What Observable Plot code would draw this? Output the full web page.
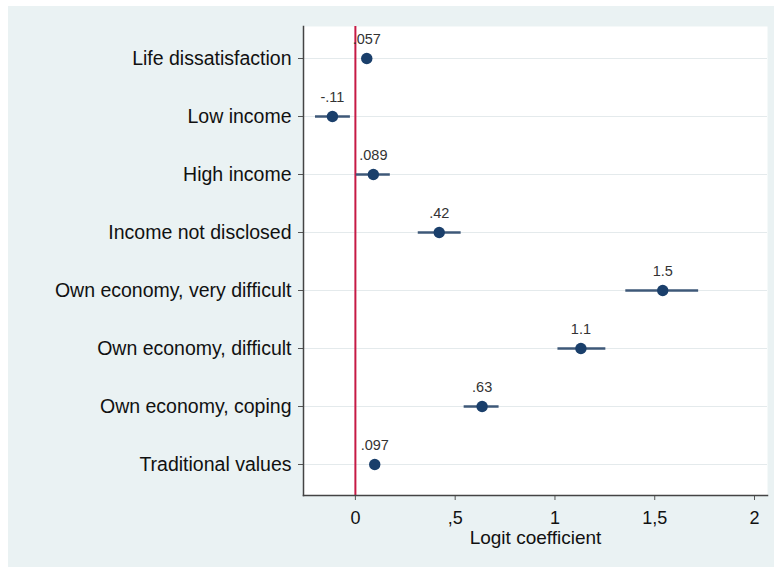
<!DOCTYPE html>
<html><head><meta charset="utf-8">
<script src="https://cdn.jsdelivr.net/npm/d3@7"></script>
<script src="https://cdn.jsdelivr.net/npm/@observablehq/plot@0.6"></script>
<style>
body{margin:0;background:#fff;}
#wrap{position:absolute;left:8px;top:6px;width:766px;height:561px;background:#eaf2f3;}
</style></head><body><div id="wrap"></div>
<script>
const categories = ["Life dissatisfaction","Low income","High income","Income not disclosed","Own economy, very difficult","Own economy, difficult","Own economy, coping","Traditional values"];
const estimates = [0.057,-0.115,0.09,0.42,1.54,1.13,0.635,0.097];
const lower = [0.035,-0.2,0.005,0.315,1.355,1.015,0.545,0.075];
const upper = [0.08,-0.025,0.175,0.53,1.72,1.255,0.72,0.12];
const valueLabels = [".057","-.11",".089",".42","1.5","1.1",".63",".097"];
const xTicks = [0,0.5,1,1.5,2];
const xTickLabels = ["0",",5","1","1,5","2"];
const axisTitle = ["Logit coefficient"];

const data = categories.map((c,i)=>({term:c, est:estimates[i], lo:lower[i], hi:upper[i], label:valueLabels[i]}));

const chart = Plot.plot({
  width:766, height:561, marginLeft:295, marginRight:7, marginTop:20, marginBottom:72,
  style:{background:"transparent", fontFamily:"'Liberation Sans', Arial, sans-serif", color:"#111"},
  x:{domain:[-0.26,2.065]},
  y:{type:"point", domain:categories, padding:0.5},
  marks:[
    Plot.frame({fill:"white", stroke:null}),
    Plot.gridY({stroke:"#e4eaec", strokeOpacity:1, strokeWidth:1}),
    Plot.ruleX([0],{stroke:"#c61a45", strokeWidth:2}),
    Plot.ruleY(data,{y:"term", x1:"lo", x2:"hi", stroke:"#3e5878", strokeWidth:2.5}),
    Plot.dot(data,{x:"est", y:"term", r:5.7, fill:"#1a3f6b", stroke:null}),
    Plot.text(data,{x:"est", y:"term", text:"label", dy:-19, fontSize:14.5, fill:"#333"}),
    Plot.axisY({tickSize:5, tickPadding:7, fontSize:19.5, label:null, stroke:"#555"}),
    Plot.axisX({ticks:xTicks, tickFormat:d=>xTickLabels[xTicks.indexOf(d)], tickSize:5, tickPadding:11, fontSize:18, label:null, stroke:"#555"}),
    Plot.text(axisTitle,{text:d=>d, frameAnchor:"bottom", lineAnchor:"middle", dy:42, fontSize:19, fill:"#111"}),
    Plot.frame({anchor:"left", stroke:"#444", strokeWidth:1.5}),
    Plot.frame({anchor:"bottom", stroke:"#444", strokeWidth:1.5})
  ]
});
document.getElementById("wrap").appendChild(chart);
</script></body></html>
